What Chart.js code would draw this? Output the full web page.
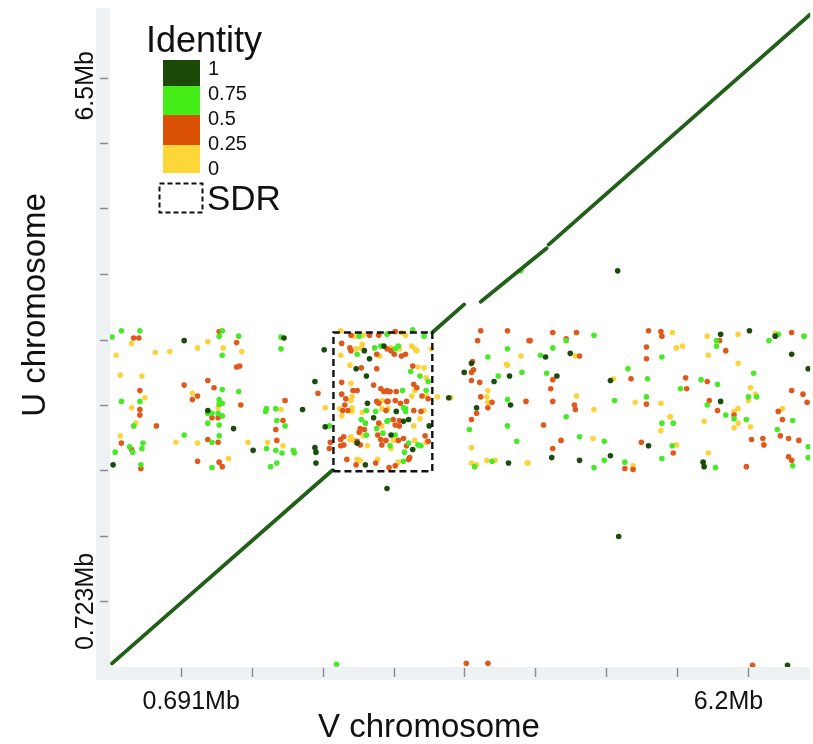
<!DOCTYPE html>
<html>
<head>
<meta charset="utf-8">
<title>U vs V dot plot</title>
<script src="https://cdn.jsdelivr.net/npm/chart.js@4/dist/chart.umd.min.js"></script>
<style>
  html, body { margin: 0; padding: 0; background: #fff; }
</style>
</head>
<body>
<canvas id="dotplot" width="813" height="744"></canvas>
<script>
// Alignment dots as [V position (Mb), U position (Mb)], one list per identity class
const identity100 = [
  [0.72,3.60],[0.95,2.83],[1.20,2.63],[0.03,2.23],
  [1.69,3.63],[2.08,3.50],[1.99,3.15],[1.87,2.84],[2.09,2.65],[1.39,2.39],[1.99,2.42],[2.00,2.37],[2.00,2.25],
  [2.47,3.49],[2.52,3.40],[2.66,3.54],[2.39,3.29],[2.49,3.21],[2.50,2.91],[2.56,2.75],[2.40,2.47],[2.48,2.23],
  [2.78,2.82],[2.85,2.71],[2.90,2.73],[3.10,2.66],[2.73,2.56],[2.94,2.40],
  [3.29,2.97],[3.51,3.35],[3.44,3.25],[3.88,3.21],[3.73,3.15],[3.89,2.89],[3.56,2.86],[3.87,2.25],
  [4.23,3.42],[4.47,3.46],[4.34,3.21],[4.86,3.16],[5.23,2.44],[4.29,2.31],[4.56,2.28],[4.86,2.33],
  [5.93,3.67],[6.21,3.71],[6.46,3.65],[6.62,3.45],[6.78,3.29],[5.93,2.93],[5.76,2.26],[5.77,2.21],
  [4.93,4.37],[2.69,1.97],[4.94,1.44],[6.58,0.02]
];
const identity75 = [
  [0.02,3.64],[0.11,3.71],[0.29,3.71],[1.09,3.71],[1.06,3.65],[1.25,3.65],[1.09,3.44],[1.09,3.06],[1.25,3.04],
  [0.11,2.93],[0.29,2.93],[1.06,2.95],[1.09,2.91],[1.06,2.90],[0.95,2.80],[0.99,2.80],[1.05,2.80],[1.09,2.77],
  [0.23,2.66],[0.95,2.69],[1.06,2.67],[0.72,2.56],[1.06,2.55],[0.99,2.48],[0.32,2.47],[0.19,2.43],[0.22,2.37],
  [0.31,2.41],[0.05,2.37],[0.30,2.23],[0.99,2.20],
  [1.66,3.64],[1.66,3.51],[1.52,2.85],[1.51,2.82],[1.61,2.85],[1.62,2.72],[1.70,2.66],[2.13,2.66],[1.52,2.41],
  [1.61,2.39],[1.67,2.36],[1.78,2.39],[1.79,2.36],[1.56,2.21],[1.62,2.25],
  [2.42,3.65],[2.69,3.67],[2.40,3.45],[2.57,3.52],[2.63,3.54],[2.49,2.83],[2.58,2.82],[2.44,2.73],[2.48,2.69],
  [2.59,2.63],[2.69,2.71],[2.49,2.56],[2.65,2.58],
  [2.94,3.72],[3.05,3.65],[2.77,3.51],[2.80,3.54],[2.92,3.26],[3.01,3.21],[3.09,3.15],[2.84,3.05],[3.07,3.05],
  [2.85,2.86],[2.87,2.85],[2.87,2.82],[2.70,2.72],[2.77,2.56],[2.90,2.47],[2.72,2.44],[2.99,2.45],[3.02,2.44],
  [2.86,2.37],[2.85,2.27],
  [3.86,3.51],[3.67,3.42],[3.77,3.21],[4.00,3.25],[3.86,2.95],[3.49,2.62],[3.86,2.66],[3.95,2.49],[3.54,2.21],[3.71,2.27],
  [4.70,3.66],[4.43,3.60],[4.30,3.52],[4.18,3.44],[5.36,3.42],[4.24,3.24],[5.03,3.29],[5.22,3.18],[4.90,2.94],
  [5.21,2.98],[4.43,2.76],[5.36,2.69],[4.56,2.54],[4.80,2.49],[4.70,2.20],[4.80,2.28],[5.00,2.26],[5.36,2.30],
  [6.49,3.67],[6.74,3.65],[5.89,3.60],[5.89,3.54],[6.40,3.60],[6.25,3.24],[5.74,3.17],[5.90,3.12],[5.54,3.07],
  [6.20,2.98],[6.28,2.98],[5.80,2.89],[5.98,2.78],[6.06,2.74],[6.18,2.73],[5.47,2.69],[6.63,2.72],[6.48,2.62],
  [5.46,2.44],[6.78,2.43],[6.78,2.31],[6.63,2.22],[5.88,2.20],
  [3.99,4.37],[2.20,0.03]
];
const identity50 = [
  [0.23,3.63],[0.28,3.63],[1.06,3.70],[1.23,3.58],[1.23,3.31],[1.26,3.32],[0.72,3.11],[0.95,3.16],[1.01,3.08],
  [0.29,3.05],[0.85,2.99],[0.80,2.95],[1.27,2.89],[0.29,2.84],[0.99,2.75],[1.05,2.75],[0.29,2.78],[0.45,2.66],
  [0.95,2.51],[1.05,2.48],[0.11,2.47],[0.21,2.40],[0.30,2.19],[0.85,2.27],[1.06,2.26],[1.09,2.21],
  [2.02,3.02],[1.70,2.94],[1.68,2.72],[1.61,2.62],[1.62,2.50],[2.14,2.48],[2.13,2.41],
  [2.34,3.66],[2.52,3.66],[2.61,3.66],[2.25,3.57],[2.33,3.52],[2.34,3.49],[2.69,3.51],[2.59,3.45],[2.44,3.30],
  [2.59,3.29],[2.25,3.14],[2.40,3.05],[2.36,3.05],[2.56,3.11],[2.63,3.07],[2.66,3.04],[2.70,3.04],[2.25,3.01],
  [2.29,2.96],[2.59,2.93],[2.61,2.91],[2.69,2.93],[2.26,2.83],[2.31,2.83],[2.28,2.89],[2.68,2.83],[2.61,2.69],
  [2.43,2.63],[2.47,2.62],[2.42,2.59],[2.27,2.54],[2.24,2.51],[2.40,2.49],[2.60,2.56],[2.63,2.51],[2.24,2.44],
  [2.27,2.45],[2.43,2.45],[2.64,2.45],[2.68,2.50],[2.30,2.29],[2.39,2.23],[2.58,2.25],
  [2.77,3.70],[2.73,3.49],[2.76,3.45],[2.87,3.45],[2.83,3.43],[2.94,3.32],[2.69,3.05],[2.72,3.04],[2.78,3.04],
  [2.95,3.12],[2.98,3.08],[3.03,2.99],[3.09,2.96],[2.70,2.93],[2.77,2.94],[2.82,2.91],[2.88,2.93],[2.95,2.83],
  [3.02,2.82],[2.75,2.73],[2.81,2.72],[2.77,2.67],[2.81,2.66],[2.80,2.50],[2.85,2.52],[3.06,2.55],[2.88,2.44],
  [3.09,2.49],[2.91,2.31],[2.90,2.29],[2.71,2.20],[2.77,2.22],
  [3.60,3.71],[3.86,3.71],[3.57,3.60],[4.07,3.60],[3.52,3.37],[3.53,3.28],[3.51,3.25],[3.51,3.16],[3.59,3.14],
  [3.60,2.98],[3.71,2.92],[4.04,2.93],[3.56,2.80],[3.67,2.86],[3.51,2.73],
  [4.08,3.60],[4.30,3.69],[4.53,3.69],[4.43,3.62],[4.56,3.43],[5.23,3.71],[5.35,3.70],[5.36,3.65],[5.21,3.53],
  [5.21,3.40],[4.30,3.17],[4.28,3.07],[5.06,3.18],[4.30,2.93],[4.51,2.89],[4.52,2.84],[5.21,2.90],
  [4.21,2.67],[4.38,2.50],[4.30,2.41],[5.16,2.48],[5.00,2.19],[5.08,2.18],
  [6.62,3.69],[5.92,3.60],[5.98,3.49],[5.59,3.19],[5.80,3.15],[5.60,3.07],[6.62,3.05],[6.73,3.01],[6.77,2.92],
  [5.82,2.94],[5.90,2.83],[6.06,2.78],[6.49,2.82],[6.53,2.73],[6.51,2.55],[6.59,2.52],[6.69,2.50],[6.23,2.51],
  [6.34,2.52],[6.35,2.45],[5.47,2.36],[6.59,2.32],[6.62,2.28],[6.18,2.21],
  [3.46,0.04],[3.67,0.04],[6.24,0.02]
];
const identity25 = [
  [0.21,3.57],[0.06,3.44],[0.44,3.47],[0.58,3.48],[0.85,3.52],[0.95,3.59],[1.10,3.52],[1.28,3.48],[0.10,3.22],
  [0.31,3.21],[0.80,3.02],[0.34,2.97],[0.21,2.86],[1.05,2.86],[0.25,2.69],[0.10,2.55],[0.64,2.48],[0.85,2.47],
  [1.34,2.48],[1.15,2.30],
  [2.09,2.86],[1.53,2.48],[1.68,2.44],[1.66,2.84],
  [2.24,3.71],[2.37,3.65],[2.46,3.66],[2.39,3.51],[2.45,3.56],[2.44,3.52],[2.62,3.43],[2.24,3.44],[2.33,3.33],
  [2.34,3.13],[2.35,2.98],[2.34,2.94],[2.64,2.94],[2.23,2.85],[2.35,2.86],[2.35,2.82],[2.45,2.81],[2.64,2.85],
  [2.25,2.77],[2.64,2.66],[2.34,2.54],[2.33,2.51],[2.37,2.50],[2.46,2.55],[2.50,2.44],[2.40,2.29],[2.43,2.28],[2.60,2.29],
  [2.70,3.68],[2.83,3.69],[2.87,3.66],[2.73,3.52],[2.81,3.51],[2.93,3.54],[2.96,3.51],[2.98,3.49],[2.99,3.31],
  [3.05,3.30],[3.07,3.19],[3.12,3.51],[2.96,3.05],[2.93,2.99],[3.07,2.99],[2.70,2.85],[3.05,2.83],[3.01,2.74],
  [2.95,2.66],[2.96,2.50],[2.75,2.50],[2.73,2.41],[3.07,2.48],[2.80,2.26],
  [3.18,2.98],[3.31,2.97],[3.99,3.43],[3.85,3.34],[3.86,3.33],[3.67,3.05],[3.66,2.98],[3.67,2.92],[3.51,2.42],
  [3.51,2.25],[3.56,2.23],[3.66,2.28],[3.74,2.28],[4.06,2.25],
  [4.52,3.43],[4.89,3.18],[4.53,2.99],[4.70,2.84],[5.10,2.92],[5.35,2.91],[5.35,2.61],[5.44,2.76],[4.69,2.52],
  [4.05,2.25],[5.08,2.22],
  [5.46,3.69],[5.80,3.65],[6.10,3.67],[6.46,3.68],[5.50,3.52],[5.56,3.54],[5.81,3.44],[6.10,3.35],[6.22,3.08],
  [6.20,2.94],[6.27,3.01],[6.06,2.82],[6.10,2.85],[6.10,2.69],[6.06,2.64],[5.44,2.76],[5.77,2.71],[6.22,2.65],
  [6.53,2.85],[5.50,2.45],[5.81,2.36]
];

// Collinear blocks along the diagonal: [start, end] on each chromosome (Mb)
const blockV = [[0.02, 2.16], [3.13, 3.44], [3.60, 4.24], [4.26, 6.80]];
const blockU = [[0.04, 2.17], [3.69, 4.00], [4.03, 4.62], [4.66, 7.20]];

// Sex-determining region bounds (Mb)
const sdrV = [2.17, 3.13];
const sdrU = [2.16, 3.69];

// Axis ticks
const xTickValues = [0.691, 1.38, 2.07, 2.76, 3.44, 4.13, 4.82, 5.51, 6.20];
const xTickLabels = ['0.691Mb', '', '', '', '', '', '', '', '6.2Mb'];
const yTickValues = [0.723, 1.45, 2.17, 2.89, 3.61, 4.34, 5.06, 5.78, 6.50];
const yTickLabels = ['0.723Mb', '', '', '', '', '', '', '', '6.5Mb'];

// Identity key
const keyLabels = ['1', '0.75', '0.5', '0.25', '0'];
const keyColors = ['#1b4a08', '#45ee18', '#db5206', '#fdd637'];

const FONT = "'Liberation Sans', Arial, sans-serif";
const LINE_GREEN = '#22601a';

const toXY = pairs => pairs.map(([v, u]) => ({ x: v, y: u }));

const dotSet = (pairs, color) => ({
    data: toXY(pairs),
    backgroundColor: color,
    borderWidth: 0,
    pointRadius: 2.8,
    pointHoverRadius: 2.8
});

const blockSets = blockV.map((v, i) => ({
    data: [{ x: v[0], y: blockU[i][0] }, { x: v[1], y: blockU[i][1] }],
    showLine: true,
    borderColor: LINE_GREEN,
    borderWidth: 3.8,
    borderCapStyle: 'round',
    pointRadius: 0
}));

const sdrSet = {
    data: [
        { x: sdrV[0], y: sdrU[0] }, { x: sdrV[1], y: sdrU[0] },
        { x: sdrV[1], y: sdrU[1] }, { x: sdrV[0], y: sdrU[1] },
        { x: sdrV[0], y: sdrU[0] }
    ],
    showLine: true,
    borderColor: '#111',
    borderWidth: 2.4,
    borderDash: [7, 4],
    pointRadius: 0,
    tension: 0
};

// Axis bands, ticks, titles and the identity key are painted around the plot
const frame = {
    id: 'frame',
    beforeDraw(chart) {
        const { ctx, chartArea: a } = chart;
        ctx.save();
        ctx.fillStyle = '#eef2f5';
        ctx.fillRect(96, a.top, a.left - 96, a.bottom - a.top + 13);
        ctx.fillRect(96, a.bottom, a.right - 96, 13);
        ctx.restore();
    },
    afterDraw(chart) {
        const { ctx, chartArea: a, scales: { x, y } } = chart;
        ctx.save();
        ctx.strokeStyle = '#8c8c8c';
        ctx.lineWidth = 1.5;
        xTickValues.forEach(v => {
            const px = Math.round(x.getPixelForValue(v)) + 0.5;
            ctx.beginPath();
            ctx.moveTo(px, a.bottom + 1);
            ctx.lineTo(px, a.bottom + 10);
            ctx.stroke();
        });
        yTickValues.forEach(v => {
            const py = Math.round(y.getPixelForValue(v)) + 0.5;
            ctx.beginPath();
            ctx.moveTo(a.left - 10, py);
            ctx.lineTo(a.left - 2, py);
            ctx.stroke();
        });

        ctx.fillStyle = '#111';
        ctx.font = '25px ' + FONT;
        ctx.textAlign = 'center';
        ctx.textBaseline = 'alphabetic';
        xTickLabels.forEach((t, i) => {
            if (!t) return;
            const nudge = i === 0 ? 10 : -20;
            ctx.fillText(t, x.getPixelForValue(xTickValues[i]) + nudge, a.bottom + 42);
        });
        yTickLabels.forEach((t, i) => {
            if (!t) return;
            const nudge = i === 0 ? 0 : 8;
            ctx.save();
            ctx.translate(a.left - 17, y.getPixelForValue(yTickValues[i]) + nudge);
            ctx.rotate(-Math.PI / 2);
            ctx.fillText(t, 0, 0);
            ctx.restore();
        });

        // axis titles
        ctx.font = '33px ' + FONT;
        ctx.fillText('V chromosome', 429, 737);
        ctx.save();
        ctx.translate(45, 305);
        ctx.rotate(-Math.PI / 2);
        ctx.fillText('U chromosome', 0, 0);
        ctx.restore();

        // identity key
        ctx.textAlign = 'left';
        ctx.font = '36px ' + FONT;
        ctx.fillText('Identity', 146, 52);
        const edges = [60, 86, 115, 145, 173];
        keyColors.forEach((c, i) => {
            ctx.fillStyle = c;
            ctx.fillRect(163, edges[i], 37, edges[i + 1] - edges[i]);
        });
        ctx.fillStyle = '#111';
        ctx.font = '20px ' + FONT;
        keyLabels.forEach((t, i) => ctx.fillText(t, 208, 75 + i * 25));

        ctx.strokeStyle = '#111';
        ctx.lineWidth = 2;
        ctx.setLineDash([5, 3]);
        ctx.strokeRect(159.5, 183.5, 43, 29);
        ctx.setLineDash([]);
        ctx.font = '35px ' + FONT;
        ctx.fillText('SDR', 207, 210);
        ctx.restore();
    }
};

new Chart(document.getElementById('dotplot').getContext('2d'), {
    type: 'scatter',
    data: {
        datasets: [
            sdrSet,
            ...blockSets,
            dotSet(identity100, '#1a4c0e'),
            dotSet(identity75, '#48ea28'),
            dotSet(identity50, '#e0581a'),
            dotSet(identity25, '#fcd33c')
        ]
    },
    options: {
        responsive: false,
        animation: false,
        layout: { padding: { left: 110, top: 8, right: 0, bottom: 77 } },
        plugins: {
            legend: { display: false },
            tooltip: { enabled: false }
        },
        scales: {
            x: { type: 'linear', min: 0, max: 6.80, display: false },
            y: { type: 'linear', min: 0, max: 7.27, display: false }
        }
    },
    plugins: [frame]
});
</script>
</body>
</html>
